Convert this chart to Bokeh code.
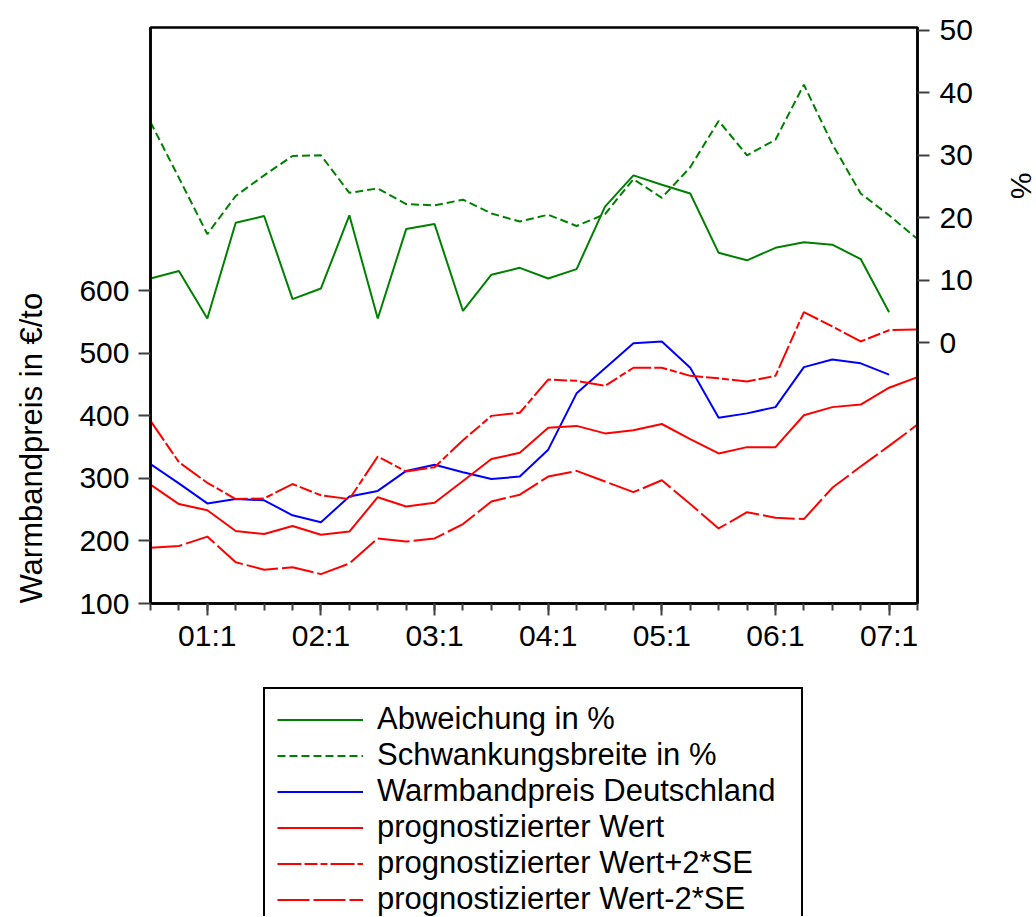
from bokeh.plotting import figure
from bokeh.layouts import column
from bokeh.models import (Range1d, LinearAxis, FixedTicker, Legend, LegendItem, Title)
from bokeh.embed import file_html
from bokeh.resources import INLINE

quarters = ["00:3", "00:4", "01:1", "01:2", "01:3", "01:4", "02:1", "02:2", "02:3", "02:4",
            "03:1", "03:2", "03:3", "03:4", "04:1", "04:2", "04:3", "04:4", "05:1", "05:2",
            "05:3", "05:4", "06:1", "06:2", "06:3", "06:4", "07:1", "07:2"]

abweichung = [10.3, 11.5, 3.9, 19.2, 20.3, 7.0, 8.7, 20.4, 3.9, 18.2, 19.0, 5.1, 10.9, 12.0,
              10.3, 11.8, 21.8, 26.8, 25.3, 23.9, 14.4, 13.2, 15.2, 16.1, 15.7, 13.4, 4.9]
schwankung = [35.3, 26.4, 17.4, 23.5, 26.8, 29.9, 30.0, 24.0, 24.7, 22.2, 22.0, 22.9, 20.7, 19.4,
              20.5, 18.7, 20.6, 26.2, 23.2, 28.1, 35.5, 30.0, 32.5, 41.3, 31.8, 23.9, 20.4, 16.6]
warmband = [323, 292, 260, 267, 265, 241, 230, 271, 280, 312, 322, 310, 299, 303,
            346, 436, 476, 516, 519, 477, 397, 404, 414, 478, 490, 484, 466]
prognose = [290, 259, 249, 216, 211, 224, 210, 215, 270, 255, 261, 296, 331, 341,
            381, 384, 372, 377, 387, 363, 340, 350, 350, 401, 414, 418, 445, 462]
prognose_plus = [392, 326, 293, 267, 268, 291, 273, 267, 335, 311, 318, 361, 400, 405,
                 458, 456, 448, 477, 477, 464, 460, 455, 464, 566, 543, 519, 537, 538]
prognose_minus = [189, 192, 207, 166, 154, 158, 147, 164, 204, 199, 204, 227, 263, 274,
                  303, 312, 295, 278, 297, 259, 220, 246, 237, 235, 285, 319, 352, 386]

series_labels = ["Abweichung in %", "Schwankungsbreite in %", "Warmbandpreis Deutschland",
                 "prognostizierter Wert", "prognostizierter Wert+2*SE",
                 "prognostizierter Wert-2*SE"]

left_ticks = [100, 200, 300, 400, 500, 600]
right_ticks = [0, 10, 20, 30, 40, 50]

FONT = "Liberation Sans"
GREEN = "#008000"
BLUE = "#0000FF"
RED = "#FF0000"

styles = [
    dict(line_color=GREEN, line_width=2),
    dict(line_color=GREEN, line_width=2, line_dash="8 4"),
    dict(line_color=BLUE, line_width=2),
    dict(line_color=RED, line_width=2),
    dict(line_color=RED, line_width=2, line_dash="24 3 13 3 7 3"),
    dict(line_color=RED, line_width=2, line_dash="32 4"),
]
series = [abweichung, schwankung, warmband, prognose, prognose_plus, prognose_minus]

n = len(quarters)
xs = list(range(n))

p = figure(frame_width=767, frame_height=576,
           min_border_left=150, min_border_right=117, min_border_top=27, min_border_bottom=70,
           x_range=Range1d(0, n - 1), y_range=Range1d(100, 1021),
           output_backend="svg", toolbar_location=None, tools="")
p.extra_y_ranges = {"pct": Range1d(-41.7, 50.45)}

p.grid.visible = False
p.outline_line_color = "black"
p.outline_line_width = 2.5
p.background_fill_color = "white"
p.border_fill_color = "white"

major = [i for i, q in enumerate(quarters) if q.endswith(":1")]
p.xaxis.ticker = FixedTicker(ticks=major, minor_ticks=xs)
p.xaxis.major_label_overrides = {i: quarters[i] for i in major}

p.yaxis.ticker = FixedTicker(ticks=left_ticks)

right = LinearAxis(y_range_name="pct", ticker=FixedTicker(ticks=right_ticks))
p.add_layout(right, "right")

for ax in [p.xaxis[0], p.yaxis[0], right]:
    ax.axis_line_color = "black"
    ax.axis_line_width = 2.5
    ax.major_tick_line_color = "#404040"
    ax.major_tick_line_width = 2
    ax.minor_tick_line_color = "#404040"
    ax.minor_tick_line_width = 2
    ax.major_tick_in = 0
    ax.major_tick_out = 12
    ax.minor_tick_in = 0
    ax.minor_tick_out = 7
    ax.major_label_text_font = FONT
    ax.major_label_text_font_size = "30px"
    ax.major_label_text_color = "black"
    ax.major_label_standoff = 9
p.xaxis[0].major_label_standoff = 3
right.major_label_standoff = 10
p.yaxis[0].minor_tick_out = 0
right.minor_tick_out = 0

# blank axis labels only reserve room so that the titles sit further out
p.yaxis[0].axis_label = " "
p.yaxis[0].axis_label_text_font_size = "1px"
p.yaxis[0].axis_label_standoff = 23
right.axis_label = " "
right.axis_label_text_font_size = "1px"
right.axis_label_standoff = 24

p.add_layout(Title(text="Warmbandpreis in €/to", align="left", offset=0, standoff=0,
                   vertical_align="middle", text_font=FONT, text_font_size="31px",
                   text_font_style="normal", text_color="black"), "left")
p.add_layout(Title(text="%", align="left", offset=145, standoff=0,
                   vertical_align="middle", text_font=FONT, text_font_size="30px",
                   text_font_style="normal", text_color="black"), "right")

p.line(xs[:len(abweichung)], abweichung, y_range_name="pct", **styles[0])
p.line(xs[:len(schwankung)], schwankung, y_range_name="pct", **styles[1])
p.line(xs[:len(warmband)], warmband, **styles[2])
p.line(xs[:len(prognose)], prognose, **styles[3])
p.line(xs[:len(prognose_plus)], prognose_plus, **styles[4])
p.line(xs[:len(prognose_minus)], prognose_minus, **styles[5])

# legend panel below the chart (its series lie outside its view; only the legend shows)
p2 = figure(width=1034, height=243, min_border=0,
            x_range=Range1d(1000, 1001), y_range=Range1d(5000, 5001),
            x_axis_type=None, y_axis_type=None, output_backend="svg",
            toolbar_location=None, tools="")
p2.grid.visible = False
p2.outline_line_color = None
p2.background_fill_color = "white"
p2.border_fill_color = "white"

items = []
for lab, st, ys in zip(series_labels, styles, series):
    rr = p2.line(xs[:len(ys)], ys, **st)
    items.append(LegendItem(label=lab, renderers=[rr]))

legend = Legend(items=items, location=(113, -15))
legend.label_text_font = FONT
legend.label_text_font_size = "31px"
legend.label_text_color = "black"
legend.glyph_width = 86
legend.glyph_height = 33
legend.label_height = 33
legend.label_width = 412
legend.label_standoff = 14
legend.spacing = 0
legend.padding = 12
legend.margin = 0
legend.border_line_color = "black"
legend.border_line_width = 2
legend.border_line_alpha = 1.0
legend.background_fill_color = "white"
legend.background_fill_alpha = 1.0
p2.add_layout(legend)

layout = column(p, p2, spacing=0)
open("out.html", "w").write(file_html(layout, INLINE))
